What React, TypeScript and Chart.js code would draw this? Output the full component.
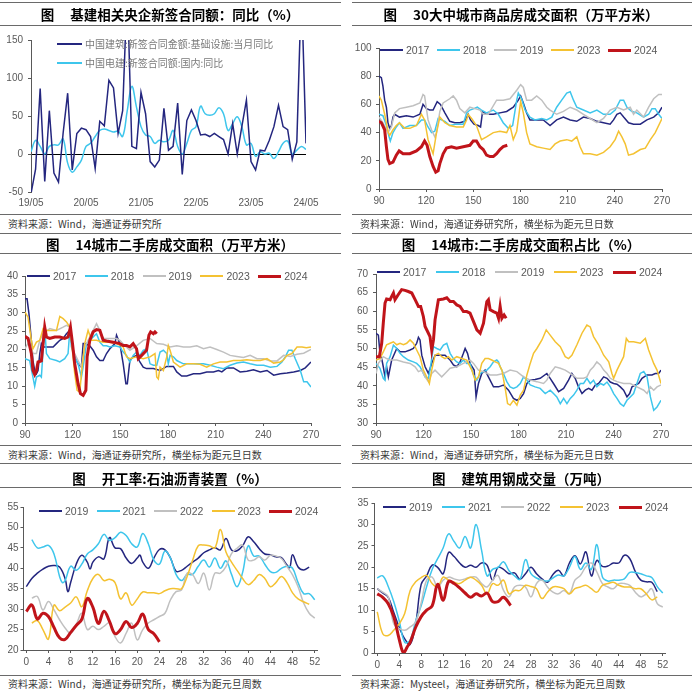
import { useEffect, useRef } from "react";
import { Chart, registerables } from "chart.js";

Chart.register(...registerables);

type Pt = [number, number];

// ---------- colours ----------
const NAVY = "#24267F";
const CYAN = "#3EC6EC";
const GRAY = "#C0C0C0";
const GOLD = "#F4C232";
const RED = "#C0141A";
const AXIS = "#595959";
const TICK_TXT = "#595959";

// ---------- panel 1 : infrastructure contracts (monthly) ----------
const infraTickIdx = [0, 12, 24, 36, 48, 60];
const infraTickLabels = ["19/05", "20/05", "21/05", "22/05", "23/05", "24/05"];
const infraCSCEC = [
  -52, -20, 86, -36, 57, -25, -37, 27, 80, -21,
  27, 34, 32, 23, -19, 43, 37, 97, 87, 27,
  57, 220, 10, 7, 81, 53, -10, -17, -8, 60,
  5, 10, 67, -27, 44, 58, 44, 25, 26, 23,
  27, 23, 19, 0, 40, 0, 36, 71, -10, -21,
  5, 4, 18, 36, 64, 36, 32, -7, 16, 220,
  14,
];
const infraPowerChina = [
  3, 18, 10, 0, 10, 12, 12, 20, -12, -24,
  -17, -8, 10, 14, 23, 31, 33, 31, 29, 30,
  23, 57, 89, 62, 36, 25, 23, 14, 18, 16,
  18, 31, 10, 0, 14, 31, 36, 63, 53, 51,
  53, 61, 53, 31, 40, 49, 36, 12, 14, -3,
  3, 0, 1, -6, 3, 14, 17, 0, 5, 10,
  6,
];

// ---------- shared ticks ----------
const dayTicks = [90, 120, 150, 180, 210, 240, 270];
const weekTicks = [0, 4, 8, 12, 16, 20, 24, 28, 32, 36, 40, 44, 48, 52];

// ---------- panel 2 : 30 cities new home sales ----------
const area30_2017: Pt[] = [[90,80],[91.5,79],[92.5,73],[93.6,63],[94.7,58],[95.7,47],[96.8,43],[97.9,45],[98.9,51],[100,53],[103,51],[107.4,52],[111.7,51],[116,53],[118,60],[120.2,57],[122.3,56],[124.4,56],[127,62],[129.1,60],[131.9,54],[135,48],[138.2,47],[141.4,47],[144.6,48],[146.7,53],[148.2,49],[150.4,46],[153.1,45],[154.6,44],[155.9,55],[158.4,53],[162.7,53],[166.9,54],[171.2,55],[175.4,58],[178.6,63],[180.1,66],[181.8,61],[183.9,54],[186,49],[190.3,49],[194.5,49],[198.8,45],[203,49],[207.3,51],[211.6,49],[215.8,48],[220,51],[224.3,50],[228.6,48],[232.8,47],[237,46],[239.2,49],[241.3,53],[243.4,54],[245.6,51],[248.7,47],[251.9,46],[256.2,46],[260.4,49],[264.7,51],[267.9,54],[270,58]];
const area30_2018: Pt[] = [[90,53],[92.5,52],[94.7,45],[96.4,37],[97.2,34],[98.9,40],[101,44],[103,47],[105.3,43],[109.6,45],[113.8,45],[117,49],[119,49],[121.2,44],[123.4,40],[125.5,41],[127.6,50],[129.7,49],[131.9,48],[135,45],[139.3,46],[143.6,46],[145.7,54],[147.8,56],[150.4,57],[152.5,58],[155.2,56],[158.4,54],[162.7,56],[165.9,53],[169,47],[172.2,43],[175,45],[177.6,63],[178.6,68],[180.7,64],[182.9,56],[186,51],[189.2,49],[193.5,50],[196.7,49],[199.9,51],[203,58],[206.2,63],[209.4,68],[211.6,69],[213.7,63],[215.8,58],[220,56],[224.3,54],[228.6,56],[232.8,53],[237,53],[240.2,56],[243.4,63],[245.6,63],[247.7,58],[250.9,55],[254,54],[258.3,51],[261.5,53],[263.6,57],[265.7,57],[267.9,53],[270,50]];
const area30_2019: Pt[] = [[90,51],[92.5,47],[95.7,40],[97.9,44],[100,54],[103,57],[107.4,58],[111.7,59],[116,61],[118,67],[119,66],[121.2,49],[123.4,42],[125.5,37],[126.6,40],[128.7,55],[130.8,61],[135,64],[137.2,66],[139.3,63],[141.4,57],[144.6,54],[147.8,58],[151,57],[154.2,56],[156.3,53],[159.5,53],[164.8,63],[169,63],[173.3,64],[177.6,70],[180.1,74],[181.8,72],[183.9,63],[187.1,63],[190.3,66],[193.5,63],[196.7,58],[198.8,56],[203,53],[207.3,55],[211.6,58],[215.8,56],[220,53],[224.3,50],[228.6,47],[232.8,50],[237,56],[241.3,58],[245.6,56],[249.8,58],[251.9,53],[254,56],[258.3,51],[261.5,58],[264.7,64],[267.9,67],[270,67]];
const area30_2023: Pt[] = [[90,66],[91.5,63],[93.6,53],[95.7,41],[96.8,38],[98.9,42],[101,45],[103,47],[106.4,43],[109.6,43],[113.8,45],[117,53],[119,49],[121.2,35],[123.4,28],[124.4,25],[126.6,40],[128.7,51],[131.9,47],[135,45],[139.3,44],[143.6,44],[145.7,49],[146.7,53],[148.9,50],[152,45],[155.2,35],[158.4,37],[162.7,40],[166.9,41],[171.2,40],[173.3,45],[175.4,35],[177.6,41],[180.1,62],[181.8,54],[183.9,40],[186,32],[190.3,30],[194.5,29],[198.8,28],[202,32],[205.2,34],[209.4,35],[212.6,34],[215.8,37],[217.9,30],[220,25],[224.3,25],[228.6,24],[232.8,26],[237,30],[240.2,35],[242.4,41],[244.5,37],[246.6,32],[248.7,24],[251.9,25],[256.2,28],[259.4,29],[262.6,35],[265.7,40],[270,50]];
const area30_2024: Pt[] = [[90,48],[91.5,47],[93.6,42],[94.7,30],[95.7,21],[96.8,18],[98.9,19],[101,24],[102.8,27],[105.3,25],[109.6,25],[113.8,27],[117,30],[119,34],[120.6,31],[122.3,23],[124.4,16],[126.1,12],[127.6,13],[128.7,18],[130.8,25],[132.9,29],[136.1,30],[139.3,29],[143.6,30],[147.8,31],[149.9,34],[152,34],[154.2,30],[156.3,28],[158.4,24],[160.6,23],[162.7,23],[164.8,25],[166.9,28],[169,30],[171.6,31]];

// ---------- panel 3 : 14 cities resale area ----------
const resale14_2017: Pt[] = [[90,33.8],[91.3,33.8],[92.5,29.7],[94,22.5],[95,17],[96.1,14.3],[97.2,13.4],[98.2,14.3],[99.3,18.9],[100.3,21.6],[101.4,20.7],[105.6,20.7],[107.7,20.7],[109.8,21.6],[111.9,22.5],[114,23],[116.1,24.3],[118.2,25.2],[119.2,22.5],[121.3,18],[123.4,16.1],[125.5,15.2],[126.6,21.6],[127.6,21.6],[130.8,21],[132.9,19.8],[135,18],[137.1,17],[139.2,17],[141.3,18.9],[143.4,20.2],[146.6,21.6],[147.6,23.9],[149.7,21.6],[151.8,16.1],[153.5,10.7],[154.4,10.7],[156,17],[158.1,18],[160.2,18.4],[162.3,16.6],[164.4,15.2],[166.5,14.8],[170.8,14.8],[175,14.3],[179.2,15.4],[183.4,15.4],[185.5,13.9],[188.6,12.8],[191.8,12.8],[196,13.4],[200.2,13.4],[204.4,13.9],[208.6,13.9],[211.8,14.3],[213.9,13.9],[217,15],[221.2,15],[225.4,13.9],[229.6,14.1],[233.8,14.5],[238.1,13.9],[242.3,14.3],[246.5,13],[250.7,13.4],[254.9,13.6],[259.1,13.9],[263.3,14.3],[266.4,15],[270,16.6]];
const resale14_2018: Pt[] = [[90,17.5],[92.9,17],[95,12.5],[96.1,10],[97.2,12.5],[99.3,13],[100.3,12.5],[101.4,19.8],[102.4,26],[103.5,18.9],[105.6,17.5],[109.8,17],[111.9,16.6],[115,17.5],[117.1,18.9],[118.2,25.2],[119.2,20.7],[121.3,18],[123.4,16.1],[125.5,12.5],[126.6,15.2],[128.7,21.6],[130.8,22.5],[134,23.9],[135,24.3],[137.1,22],[139.2,21],[141.3,21],[143.4,20.7],[146.6,21],[149.7,20.7],[151.8,19.3],[153.9,18.4],[156,16.6],[158.1,18.4],[160.2,19.3],[162.3,18.4],[164.4,19.8],[166.5,20.2],[168.7,16.1],[170.8,15.7],[172.9,15.7],[175,19.3],[177.1,19.8],[179.2,18.9],[180.2,16.1],[181.3,18.4],[183.4,18],[185.5,17],[189.7,16.1],[193.9,16.1],[198.1,16.1],[202.3,16.1],[206.5,15.7],[210.7,15.2],[214.9,14.8],[219.1,15.7],[223.3,16.3],[227.5,16.6],[231.7,16.1],[236,15.7],[240.2,15.7],[244.4,15.2],[248.6,15.4],[251.7,16.6],[253.8,18],[255.9,19.8],[258,19.8],[260.1,17.5],[263.3,14.3],[265.4,11.2],[267.5,11.2],[270,9.8]];
const resale14_2019: Pt[] = [[90,20.2],[92.9,22.5],[95,18.9],[97.2,18.9],[99.3,22.5],[101.4,24.3],[105.6,25.7],[109.8,25.2],[114,26.1],[116.1,26.6],[118.2,26.1],[120.3,19.8],[123.4,17],[125.5,15.2],[127.6,20.7],[129.7,22.5],[132.9,25.2],[135,27],[137.1,25.2],[139.2,23],[141.3,23],[145.5,23],[147.6,23],[149.7,22.5],[152.9,21],[156,19.8],[160.2,21],[164.4,22.5],[168.7,23],[172.9,21.6],[177.1,21.4],[181.3,20.7],[185.5,21],[189.7,20.7],[193.9,20.7],[198.1,21],[202.3,20.2],[206.5,20.7],[210.7,20],[214.9,19.3],[219.1,18.4],[223.3,18.1],[227.5,17.8],[231.7,18.4],[236,17.5],[240.2,17.5],[244.4,16.9],[248.6,16.9],[252.8,18.4],[257,18.1],[261.2,18.7],[265.4,19],[270,20]];
const resale14_2023: Pt[] = [[90,30.2],[91.9,28.8],[94,22.5],[95,20.2],[97.2,22],[99.3,22.5],[101.4,25.7],[103.5,25.2],[105.6,25.2],[109.8,25.2],[111.9,29],[114,28.4],[116.1,27.5],[118.2,26.1],[119.2,22.5],[121.3,13.4],[122.8,8.9],[124.5,8.4],[125.5,13.4],[127.6,21.6],[129.7,25.2],[131.9,22.5],[135,22.5],[139.2,22],[143.4,22],[147.6,21.6],[151.8,20.7],[153.9,18],[156,17.5],[160.2,18],[164.4,17.5],[168.7,18],[171.8,18.9],[172.9,12.5],[173.9,12],[175,15.2],[177.1,14.3],[179.2,18],[180.2,21.1],[181.3,19.8],[183.4,16.6],[187.6,15.2],[191.8,16.1],[196,16.1],[200.2,16],[204.4,15.2],[208.6,16.1],[212.8,16.6],[217,16.6],[221.2,17],[225.4,17],[229.6,17.2],[233.8,17],[238.1,17],[242.3,17.5],[246.5,16.3],[250.7,16.6],[252.8,17.2],[254.9,18.4],[258,18.9],[261.2,20.7],[264.3,20.7],[267.1,20.5],[270,20.7]];
const resale14_2024: Pt[] = [[90,23.6],[91.9,23],[94,18.9],[95,14.3],[96.1,13.2],[97.2,14.3],[98.2,16.6],[100.3,16.9],[102.4,26.1],[103.5,23.4],[105.6,23],[108.7,23.4],[111.9,23.4],[115,23],[117.1,23.4],[118.6,26.1],[119.9,21.6],[121.3,16.1],[123.4,10.7],[124.9,8],[126.6,7.5],[128.3,8.9],[129.1,18],[130.8,22.5],[132.9,24.8],[135,25.4],[137.1,25.2],[139.2,22.5],[141.3,22.3],[145.5,22],[149.7,21.6],[151.8,21.1],[153.9,21.1],[156,20.7],[158.1,21.6],[160.2,20.2],[161.3,17.5],[163.4,18.4],[166.5,19.8],[168,23.9],[169.1,24.8],[170.8,24.3],[171.8,24.8],[172.9,24.3]];

// ---------- panel 4 : 14 cities resale share ----------
const share14_2017: Pt[] = [[90,54.1],[91.5,53.6],[92.5,48.7],[93.6,47.3],[94.6,45.1],[95.7,42.4],[96.7,45.1],[97.8,42.4],[99.9,46.9],[103.1,50],[105.2,49.1],[108.3,49.1],[111.5,49.6],[113.6,50],[115.7,51.4],[116.8,53],[117.8,52.3],[118.9,48.2],[121,45.1],[123.1,43.3],[125.2,46],[127.3,48.2],[130.5,48.2],[133.6,48.2],[136.8,46.9],[138.9,45.6],[141,45.1],[143.1,46.4],[145.2,48.7],[146.3,50],[147.8,48.7],[149.4,46],[152,44.2],[153.2,37],[154.7,40.6],[156.8,43.3],[158.9,44.2],[161,42.4],[164.2,39.7],[167.4,39.7],[170.5,40.2],[173.7,38.8],[176.8,36.6],[179,36.1],[181.1,36.6],[183.2,37.9],[185.3,40.6],[187.4,41.5],[190.5,41.7],[193.7,42],[197.9,43.3],[200,42],[202.1,40.6],[205.3,38.4],[208.5,39.3],[211.6,41.5],[213.7,43.3],[215.8,42],[217.9,39.7],[220.1,37.9],[222.2,38.8],[224.3,39.3],[226.4,38.8],[228.5,40.2],[230.6,40.6],[233.8,42.4],[235.9,42],[238,41],[240.1,40.6],[242.2,40.4],[244.3,39.7],[246.4,38.8],[248.5,37],[250.2,37.9],[251.7,39.7],[253.8,40.2],[255.9,40.6],[258,42],[261.2,42.9],[264.3,42.9],[266.4,43.3],[268.5,43.3],[270,44.2]];
const share14_2018: Pt[] = [[90,46],[92.5,44.7],[94.6,42],[95.7,41.5],[96.7,46],[98.9,47.8],[101,50.9],[103.1,50],[105.2,48.7],[107.3,47.8],[110.4,46.9],[113.6,46.4],[115.7,46],[117.8,45.1],[118.9,44.2],[121,42.4],[123.1,42],[124.1,44.2],[126.3,50.5],[128.4,50],[130.5,49.6],[132.6,50.9],[134.7,51.4],[136.8,48.7],[138.9,47.3],[141,46.4],[143.1,46],[145.2,46.9],[147.3,46],[149.4,46],[151.6,42.9],[153.7,41.5],[155.8,43.3],[157.9,43.8],[160,44.2],[162.1,45.1],[164.2,46.4],[166.3,46.9],[167.4,46.4],[168.4,45.1],[170.5,43.3],[172.6,41.1],[174.7,39.7],[176.8,39.3],[179,39.7],[181.1,40.6],[183.2,42.4],[185.3,41.5],[187.4,40.2],[190.5,39.7],[193.7,39.3],[196.9,37.9],[200,38.8],[202.1,37.9],[204.2,37],[206.4,35.2],[208.5,36.6],[210.6,35.2],[212.7,36.6],[214.8,37.5],[216.9,38.8],[219,40.6],[221.1,40.6],[223.2,42],[225.3,40.6],[227.4,41.5],[229.5,39.7],[231.7,40.6],[233.8,40.2],[235.9,41],[238,39.7],[240.1,37.9],[242.2,36.6],[244.3,35.2],[246.4,34.5],[248.5,36.1],[250.6,37],[252.7,37.9],[254.8,40.6],[256.9,43.3],[259.1,43.8],[261.2,42.4],[263.3,37],[265.4,33.4],[267.5,34.3],[270,36.1]];
const share14_2019: Pt[] = [[90,43.3],[91.5,46],[94.6,47.8],[96.7,47.3],[98.9,46.9],[103.1,46.9],[107.3,46.4],[111.5,46],[114.7,45.1],[116.8,43.8],[118.9,44.2],[121,42.4],[123.1,41.1],[125.2,43.3],[127.3,44.2],[129.4,43.3],[131.5,42.4],[133.6,43.3],[136.8,44.7],[141,45.1],[145.2,46],[149.4,46.9],[151.6,46],[154.7,44.2],[157.9,43.8],[162.1,42.9],[166.3,42.9],[170.5,43.3],[174.7,44.2],[179,43.8],[183.2,42.4],[187.4,41.5],[191.6,41.1],[195.8,40.6],[197.9,41.5],[200,43.3],[203.2,45.1],[206.4,44.7],[209.5,44.2],[212.7,43.3],[216.9,42],[221.1,42],[223.2,42.4],[225.3,44.2],[227.4,45.1],[229.5,46.4],[231.7,45.6],[233.8,44.2],[235.9,43.3],[238,42],[240.1,41.5],[242.2,41.1],[246.4,40.6],[250.6,40.6],[254.8,39.7],[259.1,38.8],[261.2,37.9],[263.3,39.7],[265.4,38.8],[267.5,39.7],[270,40.2]];
const share14_2023: Pt[] = [[90,46.9],[92.5,47.3],[94.6,49.1],[96.7,51],[98.9,51.4],[101,51.8],[103.1,51],[105.2,51.4],[107.3,51],[109.4,51.4],[111.5,52.3],[113.6,51.4],[115.7,49.6],[117.8,47.8],[119.9,44.2],[122,42.4],[123.7,40.6],[125.2,44.2],[127.3,48.2],[129.4,48.7],[131.5,47.8],[133.6,47.3],[135.7,47.8],[137.9,46.9],[141,47.8],[144.2,47.3],[147.3,46.9],[150.5,44.2],[152.6,41.5],[154.7,42.4],[156.8,46],[158.9,47.3],[161,47.3],[163.1,46.9],[165.3,46.4],[167.4,46],[169.5,44.2],[171.6,39.3],[173.1,35.2],[174.7,34.8],[176.8,36.1],[179,34.8],[181.1,37.5],[183.2,38.8],[185.3,42.9],[187.4,46],[189.5,48.7],[191.6,50],[194.8,52.3],[197.5,55],[200,53.6],[203.2,51.8],[206.4,50.5],[209.5,47.8],[211.6,47.3],[213.7,48.2],[216.9,51],[220.1,54.1],[223.2,56.3],[225.3,55.8],[227.4,53.2],[230.6,51],[233.8,48.2],[237,46.4],[239,43.3],[240.1,42],[242.2,44.2],[244.3,46],[246.4,47.8],[248.1,52.7],[249.6,51.8],[252.7,51.8],[256.9,51.4],[260.1,52.7],[262.2,49.6],[265.4,46],[267.5,44.2],[270,40.6]];
const share14_2024: Pt[] = [[90,47.8],[92.1,47.8],[93.6,51.4],[94.6,56.8],[95.7,62.2],[96.7,63.3],[98.9,63.1],[99.9,64],[101,64.9],[102,63.1],[104.1,64.5],[106.2,65.8],[108.3,65.6],[110.4,65.3],[112.6,64.9],[114.7,63.1],[116.8,61.3],[118.2,61.3],[119.9,58.6],[121,55.9],[123.1,54.1],[124.1,53.2],[125.2,49.6],[126.3,52.3],[127.3,57.7],[129.4,63.1],[132.6,63.3],[134.7,63.6],[136.8,62.6],[138.9,62.6],[141,61.7],[143.1,61.3],[145.2,59.9],[147.3,59.9],[149.4,59.5],[151.6,57.2],[153.7,55],[155.8,54.1],[157.9,56.8],[158.9,59.7],[160,62.6],[161,63.1],[162.1,60.4],[164.2,59.9],[166.3,59.5],[167.4,58.1],[168.4,61.3],[169.5,58.1],[170.9,59],[172.2,58.1]];

// ---------- panel 5 : asphalt plant operating rate (weekly) ----------
const asphalt_2019: Pt[] = [[0,35.5],[1,37.5],[2,38.8],[3,39.8],[4,40.5],[5,40.7],[6,40.3],[7,37.5],[7.5,34.3],[8,36.5],[9,41],[10,43.2],[11,41.5],[11.5,39.8],[12,41.5],[13,42.8],[14,42.3],[15,47.5],[16,45],[17,44.8],[18,42.5],[19,41.2],[20,42.5],[20.5,43.2],[21,41.5],[22,40],[23,42.5],[24,44.6],[25,44.5],[26,42.5],[27,39.3],[28,39.5],[29,40.5],[30,41.5],[31,42.5],[32,43.8],[33,44.5],[34,45],[35,44.5],[36,47.3],[37,44.5],[38,44.3],[39,45.5],[40,47.7],[41,46.5],[42,44.8],[43,43.5],[44,43.3],[45,42.8],[46,42.6],[47,40.8],[47.5,40.2],[48,43.3],[49,40.3],[50,39.6],[51,40.3]];
const asphalt_2021: Pt[] = [[1,47],[2,45],[3,45.2],[4,45.6],[5,43.5],[6,38],[6.5,36.5],[7,37],[8,40.5],[9,39.5],[10,41],[11,43.5],[12,44.5],[13,46],[14,48.3],[15,46.8],[16,47.5],[17,48.8],[18,48],[19,46],[20,45.2],[21,48.5],[22,46],[23,42],[24,41],[25,44.2],[26,42.5],[27,38.5],[28,37],[29,38.5],[30,38.5],[31,40.5],[32,42],[33,40.3],[34,42.5],[35,40],[36,41.8],[37,38.5],[38,35.5],[39,39],[40,45.5],[41,43],[42,43],[43,41],[44,39.2],[45,39],[46,40],[47,40.5],[48,40],[49,36.5],[50,33.8],[51,33.8],[52,32.3]];
const asphalt_2022: Pt[] = [[1,32.7],[2,33.1],[3,29.8],[4,31.9],[5,29.8],[6,27.4],[7,25.4],[8,24.1],[9,26.2],[10,29],[11,25],[12,25.8],[13,25],[14,25.8],[15,26.6],[16,23.3],[17,21.7],[18,24.1],[19,26.6],[20,22.5],[21,25],[22,26.6],[23,27.4],[24,28.2],[25,29],[26,32.3],[27,34.3],[28,34.7],[29,38.8],[30,38.4],[31,36.3],[32,38.8],[33,34.7],[34,38.8],[35,38.8],[36,40.4],[37,43.6],[38,44.9],[39,45.7],[40,42],[41,42],[42,42.8],[43,42],[44,43.2],[45,43],[46,42.4],[47,40.4],[48,38.4],[49,35.5],[50,31.5],[51,29],[52,27.8]];
const asphalt_2023: Pt[] = [[1,26.6],[2,27.2],[3,25],[4,22.7],[5,31],[6,29.6],[7,30.5],[8,31.5],[9,33],[10,30.6],[11,34.5],[12,37.5],[13,38.5],[14,37],[15,37.3],[16,36.5],[17,32.5],[18,34],[19,31],[20,32.5],[21,34.2],[22,34],[23,34],[24,33.8],[25,34.5],[26,35],[27,35],[28,35],[29,38],[30,42],[31,45.5],[32,45.7],[33,45.5],[34,45],[35,49.5],[36,44],[37,41.5],[38,39.5],[39,37.5],[40,36],[41,37],[42,38.5],[43,37.5],[44,35.5],[45,36.5],[46,38],[47,36.5],[48,34],[49,32.5],[50,31.8],[51,31.2]];
const asphalt_2024: Pt[] = [[0,29.4],[1,31],[2,27.6],[3,29],[4,28.2],[5,25.5],[6,23],[7,22.6],[8,24.3],[9,26],[10,27.5],[11,32.6],[12,30.5],[13,26.5],[14,29.5],[15,27],[16,24],[17,25],[18,27],[19,25.5],[20,26.5],[21,28.8],[22,25],[23,24],[24,22]];

// ---------- panel 6 : construction steel turnover (weekly) ----------
const steel_2019: Pt[] = [[0,15],[1,14],[2,13],[3,9.5],[4,6],[5,3.3],[6,2],[7,6.8],[8,16],[9,18],[10,20.5],[11,20],[12,18.5],[13,23.5],[14,22.5],[15,21],[16,20],[17,20.5],[18,20],[19,21],[20,20.5],[21,17],[22,20],[23,19.5],[24,18.5],[25,18.7],[26,17.2],[27,18.5],[28,20],[29,18.5],[30,17.3],[31,16.5],[32,18.3],[33,19.3],[34,18],[35,21],[36,22.7],[37,20.8],[38,23.6],[39,18],[40,21.6],[41,20.2],[42,20.3],[43,21],[44,21],[45,22.8],[46,22],[47,19],[48,17],[49,16.6],[50,16.5],[51,14.3]];
const steel_2021: Pt[] = [[0,17.5],[1,18],[2,15.5],[3,12],[4,7.5],[5,2.5],[6,3],[7,7.5],[8,11],[9,15.5],[10,19.5],[11,22],[12,24.5],[13,27.8],[14,26],[15,24.5],[16,27.2],[17,24.5],[18,30],[19,24],[20,18],[21,19.5],[22,20],[23,21.3],[24,19.2],[25,18],[26,17.2],[27,21.8],[28,18.5],[29,17.5],[30,17],[31,16.8],[32,17.5],[33,18.2],[34,18],[35,20],[36,22.5],[37,19.5],[38,21],[39,19.5],[40,25.3],[41,17.8],[42,16.8],[43,17],[44,17],[45,17.3],[46,18.8],[47,18.8],[48,18.5],[49,18],[50,17.6],[51,15.5],[52,14]];
const steel_2022: Pt[] = [[0,15],[1,14.2],[2,13.1],[3,6.8],[4,5.7],[5,5.3],[6,6.1],[7,7.2],[8,11.7],[9,17],[10,17.7],[11,15.4],[12,17],[13,17.7],[14,17.3],[15,17],[16,17.3],[17,17.7],[18,17.7],[19,16.2],[20,15.4],[21,17],[22,18.1],[23,14.6],[24,13.1],[25,15.4],[26,15.8],[27,15.4],[28,13.1],[29,16.2],[30,17],[31,15.4],[32,14.2],[33,13.8],[34,14.6],[35,13.8],[36,17],[37,18.1],[38,20.1],[39,21],[40,18.9],[41,16.2],[42,15.4],[43,15],[44,16.2],[45,16.2],[46,15.8],[47,14.2],[48,13.1],[49,13.8],[50,15],[51,11.5],[52,10.7]];
const steel_2023: Pt[] = [[0,9.6],[1,4.5],[2,4.1],[3,5.3],[4,6.8],[5,9.2],[6,14.6],[7,16.6],[8,17.6],[9,18.1],[10,16.2],[11,15.4],[12,17.7],[13,17],[14,16.5],[15,16.2],[16,17],[17,17.7],[18,17],[19,15.8],[20,13.8],[21,16.2],[22,15.8],[23,17],[24,13.8],[25,14.6],[26,14.6],[27,15.8],[28,15.5],[29,15],[30,12.7],[31,14.2],[32,15.4],[33,15.4],[34,15],[35,13.8],[36,15],[37,15.4],[38,15.8],[39,15],[40,14.2],[41,15.8],[42,16.2],[43,16.5],[44,15.8],[45,15.4],[46,15.4],[47,15],[48,15],[49,13.8],[50,12.4],[51,13.1]];
const steel_2024: Pt[] = [[0,13.8],[1,13],[2,11.5],[3,8.5],[4,3.2],[4.8,0],[5.5,1.5],[6,2.5],[7,6],[8,8.5],[9,10],[10,11],[11,16],[12,12.3],[13,16.7],[14,16.2],[15,15.2],[16,14],[17,13],[18,13.8],[19,13.3],[20,14],[21,12],[22,12],[23,13],[24.3,11.1]];

// ---------- layout helpers ----------
type Series = { label: string; color: string; width: number; pts: Pt[]; tension: number };
type Rect = { x: number; y: number; w: number; h: number };
type Area = { l: number; t: number; r: number; b: number };
type PanelCfg = {
  canvas: Rect;
  area: Area;
  xMin: number; xMax: number; xTicks: number[]; xFmt: (v: number) => string;
  xAxisLine: boolean; xPad: number;
  yMin: number; yMax: number; yStep: number; yPad: number; zeroLine: boolean;
  series: Series[];
  lastOnTop: boolean;
  legend: { x: number; y: number; pitch: number; vertical?: boolean };
};

const toPts = (vals: number[]): Pt[] => vals.map((v, i) => [i, v] as Pt);
const mk = (label: string, color: string, pts: Pt[], tension: number, width = 1.5): Series => ({ label, color, width, pts, tension });

const yearSeries = (labels: string[], colors: string[], data: Pt[][], tension: number) =>
  labels.map((l, i) => mk(l, colors[i], data[i], tension, l === "2024" ? 3 : 1.5));

const COLORS5 = [NAVY, CYAN, GRAY, GOLD, RED];

const panels: PanelCfg[] = [
  {
    canvas: { x: 0, y: 27, w: 341, h: 186 },
    area: { l: 31, t: 40, r: 306, b: 192 },
    xMin: 0, xMax: 60, xTicks: infraTickIdx,
    xFmt: (v) => infraTickLabels[infraTickIdx.indexOf(v)] ?? "",
    xAxisLine: false, xPad: 5,
    yMin: -50, yMax: 150, yStep: 50, yPad: 5, zeroLine: true,
    series: [
      mk("中国建筑:新签合同金额:基础设施:当月同比", NAVY, toPts(infraCSCEC), 0),
      mk("中国电建:新签合同额:国内:同比", CYAN, toPts(infraPowerChina), 0.4),
    ],
    lastOnTop: false,
    legend: { x: 57, y: 44, pitch: 19, vertical: true },
  },
  {
    canvas: { x: 352, y: 27, w: 348, h: 186 },
    area: { l: 379, t: 48, r: 662, b: 189 },
    xMin: 90, xMax: 270, xTicks: dayTicks, xFmt: (v) => String(v),
    xAxisLine: true, xPad: 3,
    yMin: 0, yMax: 100, yStep: 20, yPad: 4.5, zeroLine: false,
    series: yearSeries(["2017", "2018", "2019", "2023", "2024"], COLORS5,
      [area30_2017, area30_2018, area30_2019, area30_2023, area30_2024], 0),
    lastOnTop: true,
    legend: { x: 380, y: 50, pitch: 57 },
  },
  {
    canvas: { x: 0, y: 255, w: 341, h: 189 },
    area: { l: 25, t: 276, r: 311, b: 423 },
    xMin: 90, xMax: 270, xTicks: dayTicks, xFmt: (v) => String(v),
    xAxisLine: true, xPad: 3,
    yMin: 0, yMax: 40, yStep: 5, yPad: 4, zeroLine: false,
    series: yearSeries(["2017", "2018", "2019", "2023", "2024"], COLORS5,
      [resale14_2017, resale14_2018, resale14_2019, resale14_2023, resale14_2024], 0),
    lastOnTop: true,
    legend: { x: 27, y: 276, pitch: 57.8 },
  },
  {
    canvas: { x: 352, y: 255, w: 348, h: 189 },
    area: { l: 376, t: 274, r: 661, b: 423 },
    xMin: 90, xMax: 270, xTicks: dayTicks, xFmt: (v) => String(v),
    xAxisLine: true, xPad: 3,
    yMin: 30, yMax: 70, yStep: 5, yPad: 5, zeroLine: false,
    series: yearSeries(["2017", "2018", "2019", "2023", "2024"], COLORS5,
      [share14_2017, share14_2018, share14_2019, share14_2023, share14_2024], 0),
    lastOnTop: true,
    legend: { x: 377, y: 272, pitch: 59 },
  },
  {
    canvas: { x: 0, y: 489, w: 341, h: 185 },
    area: { l: 23.5, t: 507, r: 317.5, b: 650 },
    xMin: -0.5, xMax: 52.5, xTicks: weekTicks, xFmt: (v) => String(v),
    xAxisLine: true, xPad: 3,
    yMin: 20, yMax: 55, yStep: 5, yPad: 2, zeroLine: false,
    series: yearSeries(["2019", "2021", "2022", "2023", "2024"], COLORS5,
      [asphalt_2019, asphalt_2021, asphalt_2022, asphalt_2023, asphalt_2024], 0.4),
    lastOnTop: true,
    legend: { x: 39, y: 511, pitch: 57.5 },
  },
  {
    canvas: { x: 352, y: 489, w: 348, h: 185 },
    area: { l: 374.5, t: 503, r: 665.5, b: 653 },
    xMin: -0.5, xMax: 52.5, xTicks: weekTicks, xFmt: (v) => String(v),
    xAxisLine: true, xPad: 3,
    yMin: 0, yMax: 35, yStep: 5, yPad: 3, zeroLine: false,
    series: yearSeries(["2019", "2021", "2022", "2023", "2024"], COLORS5,
      [steel_2019, steel_2021, steel_2022, steel_2023, steel_2024], 0.4),
    lastOnTop: true,
    legend: { x: 383, y: 507, pitch: 59 },
  },
];

const titles = [
  "基建相关央企新签合同额：同比（%）",
  "30大中城市商品房成交面积（万平方米）",
  "14城市二手房成交面积（万平方米）",
  "14城市:二手房成交面积占比（%）",
  "开工率:石油沥青装置（%）",
  "建筑用钢成交量（万吨）",
];
const sources = [
  "资料来源：Wind，海通证券研究所",
  "资料来源：Wind，海通证券研究所，横坐标为距元旦日数",
  "资料来源：Wind，海通证券研究所，横坐标为距元旦日数",
  "资料来源：Wind，海通证券研究所，横坐标为距元旦日数",
  "资料来源：Wind，海通证券研究所，横坐标为距元旦周数",
  "资料来源：Mysteel，海通证券研究所，横坐标为距元旦周数",
];

const ROW_TITLE_Y = [14, 244, 478];
const ROW_SOURCE_Y = [224, 455, 684];
const RULES_Y = [2, 25, 214, 233, 253, 445, 463, 487, 675];
const COL = [
  { x: 0, w: 341, cx: 170 },
  { x: 352, w: 340, cx: 521 },
];

const TICK_FONT = { family: "'Liberation Sans', Arial, sans-serif", size: 10 };
const CJK = "'Noto Sans CJK SC', 'Noto Sans', sans-serif";

function ChartPanel({ cfg }: { cfg: PanelCfg }) {
  const ref = useRef<HTMLCanvasElement | null>(null);
  useEffect(() => {
    const c = cfg.canvas, a = cfg.area;
    const n = cfg.series.length;
    const chart = new Chart(ref.current as HTMLCanvasElement, {
      type: "line",
      data: {
        datasets: cfg.series.map((s, i) => ({
          label: s.label,
          data: s.pts.map(([x, y]) => ({ x, y })),
          borderColor: s.color,
          backgroundColor: s.color,
          borderWidth: s.width,
          pointRadius: 0,
          pointHoverRadius: 0,
          tension: s.tension,
          fill: false,
          clip: 0,
          order: cfg.lastOnTop ? n - 1 - i : i,
        })),
      },
      options: {
        animation: false,
        responsive: false,
        devicePixelRatio: 1,
        events: [],
        layout: { padding: { top: a.t - c.y, right: c.x + c.w - a.r, left: 0, bottom: 0 } },
        plugins: { legend: { display: false }, tooltip: { enabled: false } },
        scales: {
          x: {
            type: "linear",
            min: cfg.xMin,
            max: cfg.xMax,
            afterBuildTicks: (sc: any) => { sc.ticks = cfg.xTicks.map((v) => ({ value: v })); },
            afterFit: (sc: any) => { sc.height = c.y + c.h - a.b; },
            ticks: {
              callback: (v: any) => cfg.xFmt(Number(v)),
              font: TICK_FONT, color: TICK_TXT, padding: cfg.xPad,
              maxRotation: 0, autoSkip: false,
            },
            grid: {
              display: cfg.xAxisLine, drawOnChartArea: false, drawTicks: cfg.xAxisLine,
              tickLength: 3, color: AXIS, lineWidth: 1,
            },
            border: { display: cfg.xAxisLine, color: AXIS, width: 1 },
          },
          y: {
            type: "linear",
            min: cfg.yMin,
            max: cfg.yMax,
            afterFit: (sc: any) => { sc.width = a.l - c.x; },
            ticks: { stepSize: cfg.yStep, font: TICK_FONT, color: TICK_TXT, padding: cfg.yPad },
            grid: {
              drawOnChartArea: cfg.zeroLine,
              drawTicks: true,
              tickLength: 3,
              color: (ctx: any) => (cfg.zeroLine && ctx.tick && ctx.tick.value === 0 ? "#000000" : "rgba(0,0,0,0)"),
              tickColor: AXIS,
              lineWidth: 1,
            },
            border: { display: true, color: AXIS, width: 1 },
          },
        },
      } as any,
    });
    return () => chart.destroy();
  }, [cfg]);
  const c = cfg.canvas;
  return (
    <canvas
      ref={ref}
      width={c.w}
      height={c.h}
      style={{ position: "absolute", left: c.x, top: c.y, width: c.w, height: c.h }}
    />
  );
}

function Legend({ cfg, cjk }: { cfg: PanelCfg; cjk: boolean }) {
  const L = cfg.legend;
  return (
    <>
      {cfg.series.map((s, i) => {
        const x = L.vertical ? L.x : L.x + i * L.pitch;
        const y = L.vertical ? L.y + i * L.pitch : L.y;
        const lineLen = L.vertical ? 25 : 23;
        return (
          <div key={s.label} style={{ position: "absolute", left: x, top: y - 8, height: 16, display: "flex", alignItems: "center", whiteSpace: "nowrap" }}>
            <span style={{ display: "inline-block", width: lineLen, height: s.width >= 3 ? 3 : 2, background: s.color }} />
            <span
              style={{
                marginLeft: L.vertical ? 3 : 3,
                fontFamily: cjk ? CJK : "'Liberation Sans', Arial, sans-serif",
                fontSize: cjk ? 10 : 10.5,
                color: cjk ? "#7a7a7a" : TICK_TXT,
                lineHeight: "16px",
              }}
            >
              {s.label}
            </span>
          </div>
        );
      })}
    </>
  );
}

export default function App() {
  return (
    <div style={{ position: "fixed", left: 0, top: 0, width: 700, height: 696, background: "#ffffff", overflow: "hidden" }}>
      {panels.map((p, i) => (
        <ChartPanel key={"c" + i} cfg={p} />
      ))}
      {panels.map((p, i) => (
        <Legend key={"l" + i} cfg={p} cjk={i === 0} />
      ))}
      {RULES_Y.map((y) =>
        COL.map((col, j) => (
          <div key={"r" + y + "_" + j} style={{ position: "absolute", left: col.x, top: y, width: col.w, height: 1, background: "#6a6a6a" }} />
        ))
      )}
      {titles.map((t, i) => {
        const row = Math.floor(i / 2), col = COL[i % 2];
        return (
          <div
            key={"t" + i}
            style={{
              position: "absolute", left: col.cx - 170, top: ROW_TITLE_Y[row] - 9, width: 340, height: 18,
              lineHeight: "18px", textAlign: "center", fontFamily: CJK, fontWeight: 700, fontSize: 13.5,
              color: "#000", whiteSpace: "nowrap",
            }}
          >
            <span>图</span>
            <span style={{ marginLeft: 16 }}>{t}</span>
          </div>
        );
      })}
      {sources.map((s, i) => {
        const row = Math.floor(i / 2), col = COL[i % 2];
        return (
          <div
            key={"s" + i}
            style={{
              position: "absolute", left: col.x + 8, top: ROW_SOURCE_Y[row] - 7, height: 14, lineHeight: "14px",
              fontFamily: CJK, fontSize: 10, color: "#3a3a3a", whiteSpace: "nowrap",
            }}
          >
            {s}
          </div>
        );
      })}
    </div>
  );
}
